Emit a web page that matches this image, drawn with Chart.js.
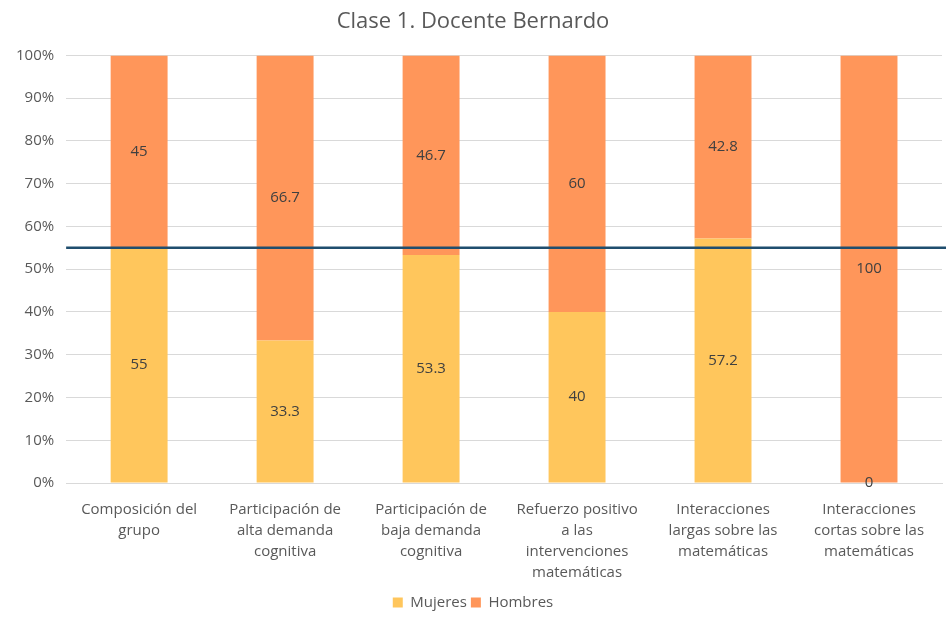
<!DOCTYPE html>
<html>
<head>
<meta charset="utf-8">
<script src="https://cdn.jsdelivr.net/npm/chart.js@4"></script>
<style>
  html, body { margin: 0; padding: 0; background: #fff; }
  #wrap { width: 948px; height: 620px; }
</style>
</head>
<body>
<div id="wrap"><canvas id="chart" width="948" height="620"></canvas></div>
<script>
const categories = [
  ["Composición del", "grupo"],
  ["Participación de", "alta demanda", "cognitiva"],
  ["Participación de", "baja demanda", "cognitiva"],
  ["Refuerzo positivo", "a las", "intervenciones", "matemáticas"],
  ["Interacciones", "largas sobre las", "matemáticas"],
  ["Interacciones", "cortas sobre las", "matemáticas"]
];
const mujeres = [55, 33.3, 53.3, 40, 57.2, 0];
const hombres = [45, 66.7, 46.7, 60, 42.8, 100];
const referencia = 55;

const FONT = "'Open Sans', 'Liberation Sans', sans-serif";
const GREY = "#595959";

// labels in the middle of each segment
const segmentLabels = {
  id: "segmentLabels",
  afterDatasetsDraw(chart) {
    const ctx = chart.ctx;
    ctx.save();
    ctx.font = "15px " + FONT;
    ctx.fillStyle = "#404040";
    ctx.textAlign = "center";
    ctx.textBaseline = "middle";
    chart.data.datasets.forEach((ds, i) => {
      chart.getDatasetMeta(i).data.forEach((bar, j) => {
        const y = (bar.y + bar.base) / 2;
        ctx.fillText(String(ds.data[j]), bar.x, y);
      });
    });
    ctx.restore();
  }
};

// horizontal reference line at 55%
const refLine = {
  id: "refLine",
  afterDatasetsDraw(chart) {
    const ctx = chart.ctx;
    const y = chart.scales.y.getPixelForValue(referencia);
    ctx.save();
    ctx.strokeStyle = "#1f4e6e";
    ctx.lineWidth = 2.5;
    ctx.beginPath();
    ctx.moveTo(chart.chartArea.left, y);
    ctx.lineTo(chart.chartArea.right + 4, y);
    ctx.stroke();
    ctx.restore();
  }
};

new Chart(document.getElementById("chart"), {
  type: "bar",
  data: {
    labels: categories,
    datasets: [
      { label: "Mujeres", data: mujeres, backgroundColor: "#FFC65C" },
      { label: "Hombres", data: hombres, backgroundColor: "#FF965A" }
    ]
  },
  options: {
    responsive: false,
    animation: false,
    layout: { padding: { left: 4, right: 6, top: 9, bottom: 0 } },
    datasets: { bar: { categoryPercentage: 1, barPercentage: 0.39 } },
    scales: {
      x: {
        stacked: true,
        grid: { display: false },
        border: { color: "#d9d9d9" },
        ticks: {
          color: GREY,
          font: { family: FONT, size: 15, lineHeight: 1.4 },
          maxRotation: 0,
          padding: 8
        }
      },
      y: {
        stacked: true,
        min: 0,
        max: 100,
        border: { display: false },
        grid: { color: "#d9d9d9", drawTicks: false },
        ticks: {
          stepSize: 10,
          padding: 12,
          color: GREY,
          font: { family: FONT, size: 15 },
          callback: v => v + "%"
        }
      }
    },
    plugins: {
      title: {
        display: true,
        text: "Clase 1. Docente Bernardo",
        color: GREY,
        font: { family: FONT, size: 22, weight: "normal" },
        padding: { top: 0, bottom: 20 }
      },
      legend: {
        position: "bottom",
        labels: {
          color: GREY,
          font: { family: FONT, size: 15 },
          boxWidth: 10,
          boxHeight: 10,
          padding: 4
        }
      },
      tooltip: { enabled: false }
    }
  },
  plugins: [refLine, segmentLabels]
});
</script>
</body>
</html>
